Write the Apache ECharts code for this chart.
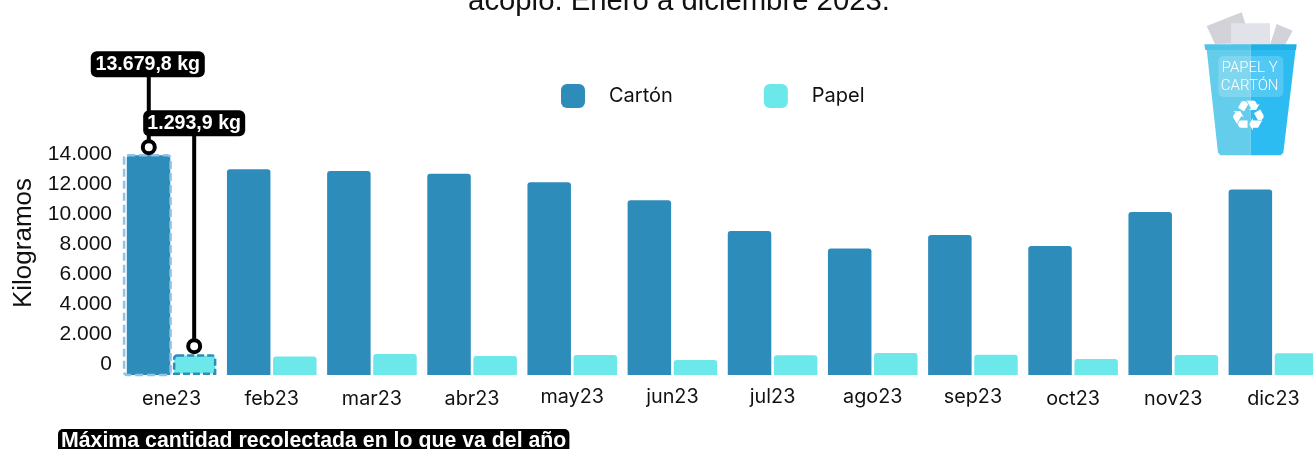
<!DOCTYPE html>
<html><head><meta charset="utf-8">
<style>html,body{margin:0;padding:0;background:#fff;overflow:hidden}#c{width:1313px;height:449px}</style>
<script src="https://cdn.jsdelivr.net/npm/echarts@6/dist/echarts.min.js"></script>
</head><body><div id="c"></div>
<script>
const months = ['ene23','feb23','mar23','abr23','may23','jun23','jul23','ago23','sep23','oct23','nov23','dic23'];
const carton = [13679.8,12810,12686,12530,12000,10880,8955,7866,8706,8022,10136,11535];
const papel = [1293.9,1150,1306,1180,1244,930,1225,1370,1262,995,1244,1350];
const raisedLabels = ['may23','jun23','jul23','ago23','sep23'];
const yTickLabels = {0:'0',2000:'2.000',4000:'4.000',6000:'6.000',8000:'8.000',10000:'10.000',12000:'12.000',14000:'14.000'};
const titleText = 'acopio. Enero a diciembre 2023.';
const footerText = 'Máxima cantidad recolectada en lo que va del año';
const axisName = 'Kilogramos';
const catFont = 'Inter';

const fmtKg = v => v.toLocaleString('es-ES',{minimumFractionDigits:1,maximumFractionDigits:1,useGrouping:true}).replace(/^(\d)(\d{3}),/,'$1.$2,') + ' kg';

function poly(points, fill){ return {type:'polygon',silent:true,shape:{points:points.map(p=>[1150+p[0]/3,p[1]/3])},style:{fill}}; }

const chart = echarts.init(document.getElementById('c'),null,{renderer:'canvas'});
chart.setOption({
  animation:false,
  backgroundColor:'#fff',
  title:{text:titleText,left:674,textAlign:'center',top:-18,textStyle:{fontFamily:'Liberation Sans',fontSize:29.3,fontWeight:'normal',color:'#111'}},
  legend:{data:['Cartón','Papel'],left:556,top:79,itemWidth:24,itemHeight:24,itemGap:91,icon:'roundRect',
    textStyle:{fontFamily:catFont,fontSize:20,color:'#111',padding:[0,0,0,19]}},
  grid:[
    {left:121.5,top:150,width:1202,height:225,outerBoundsMode:'none'},
    {left:121.5,top:154,width:1202,height:210,outerBoundsMode:'none'}
  ],
  xAxis:[
    {gridIndex:0,type:'category',data:months,axisLine:{show:false},axisTick:{show:false},
     axisLabel:{interval:0,margin:12,fontFamily:catFont,fontSize:19.8,color:'#111',
       formatter:v=>raisedLabels.includes(v)?`{up|${v}}`:`{n|${v}}`,
       rich:{up:{fontFamily:catFont,fontSize:19.8,color:'#111'},n:{fontFamily:catFont,fontSize:19.8,color:'#111',padding:[2,0,0,0]}}}},
    {gridIndex:1,type:'category',data:months,show:false}
  ],
  yAxis:[
    {gridIndex:0,type:'value',min:0,max:14000,show:false,splitLine:{show:false}},
    {gridIndex:1,type:'value',min:0,max:14000,interval:2000,splitLine:{show:false},axisLine:{show:false},axisTick:{show:false},
     axisLabel:{margin:9.5,fontFamily:'Liberation Sans',fontSize:21,color:'#111',formatter:v=>yTickLabels[v]},
     name:axisName,nameLocation:'middle',nameGap:85,nameRotate:90,
     nameTextStyle:{fontFamily:'Liberation Sans',fontSize:26,color:'#111',padding:[0,0,0,32]}}
  ],
  series:[
    {name:'Cartón',type:'bar',xAxisIndex:0,yAxisIndex:0,barWidth:43.5,barGap:'6%',
     itemStyle:{color:'#2E8CBB',borderRadius:[3,3,0,0]},data:carton},
    {name:'Papel',type:'bar',xAxisIndex:0,yAxisIndex:0,barWidth:43.5,
     itemStyle:{color:'#6CE8EA',borderRadius:[3,3,0,0]},
     data:papel.map((v,i)=>i===0?{value:v,itemStyle:{borderColor:'#2E8CBB',borderWidth:2.5,borderType:[7,3]}}:v)},
    {type:'custom',name:'resaltado',xAxisIndex:0,yAxisIndex:0,z:5,silent:true,data:[[0,carton[0]]],
     renderItem(params,api){
       const top=api.coord([api.value(0),api.value(1)]), base=api.coord([api.value(0),0]);
       return {type:'rect',shape:{x:top[0]-47.5,y:top[1],width:46.5,height:base[1]-top[1],r:3},
         style:{fill:'none',stroke:'#8CC4EA',lineWidth:2.5,lineDash:[8,4]}};
     }},
    {type:'custom',name:'etiquetas',xAxisIndex:0,yAxisIndex:0,z:6,silent:true,
     data:[[0,carton[0],-22.8,-91,114,fmtKg(carton[0]),-58],[0,papel[0],22.6,-231,102,fmtKg(papel[0]),-51]],
     renderItem(params,api){
       const pt=api.coord([api.value(0),api.value(1)]);
       const x=pt[0]+api.value(2), y=pt[1];
       const dy=api.value(3), w=api.value(4), off=api.value(6);
       const ly=y+dy;
       return {type:'group',children:[
         {type:'line',shape:{x1:x,y1:ly,x2:x,y2:y-8},style:{stroke:'#000',lineWidth:4}},
         {type:'circle',shape:{cx:x,cy:y-8,r:6},style:{fill:'#fff',stroke:'#000',lineWidth:4}},
         {type:'rect',shape:{x:x+off,y:ly-13,width:w,height:26,r:6},style:{fill:'#000'}},
         {type:'text',style:{x:x+off+w/2,y:ly,text:api.value(5),align:'center',verticalAlign:'middle',
           fill:'#fff',font:'bold 19.6px "Liberation Sans"'}}
       ]};
     }}
  ],
  graphic:[
    {type:'text',silent:true,left:58,top:429,style:{text:footerText,font:'bold 21.3px "Liberation Sans"',fill:'#fff',
      backgroundColor:'#000',padding:[2,3,2,3],borderRadius:5}},
    poly([[170,78],[275,37],[305,130],[195,132]],'#D2D2D8'),
    poly([[380,72],[428,92],[405,135],[360,135]],'#D2D2D8'),
    poly([[243,70],[360,70],[360,134],[243,134]],'#E2E2EA'),
    poly([[170,148],[302,148],[302,466],[212,466],[204,458]],'#63CDEB'),
    poly([[302,148],[437,148],[400,458],[392,466],[302,466]],'#2DBCF2'),
    poly([[163,133],[302,133],[302,150],[166,150]],'#4FC3E8'),
    poly([[302,133],[440,133],[438,150],[302,150]],'#1FB0E6'),
    {type:'rect',silent:true,shape:{x:1150+205/3,y:168/3,width:65,height:41,r:5},style:{fill:'rgba(255,255,255,0.18)'}},
    {type:'text',silent:true,style:{x:1150+299/3,y:68,text:'PAPEL Y',align:'center',verticalAlign:'middle',font:'300 15px Roboto',fill:'#fff'}},
    {type:'text',silent:true,style:{x:1150+299/3,y:86,text:'CARTÓN',align:'center',verticalAlign:'middle',font:'300 15px Roboto',fill:'#fff'}},
    {type:'text',silent:true,style:{x:1150+295/3,y:119,text:'♻',align:'center',verticalAlign:'middle',font:'42px "DejaVu Sans"',fill:'#fff'}}
  ]
});
</script></body></html>
